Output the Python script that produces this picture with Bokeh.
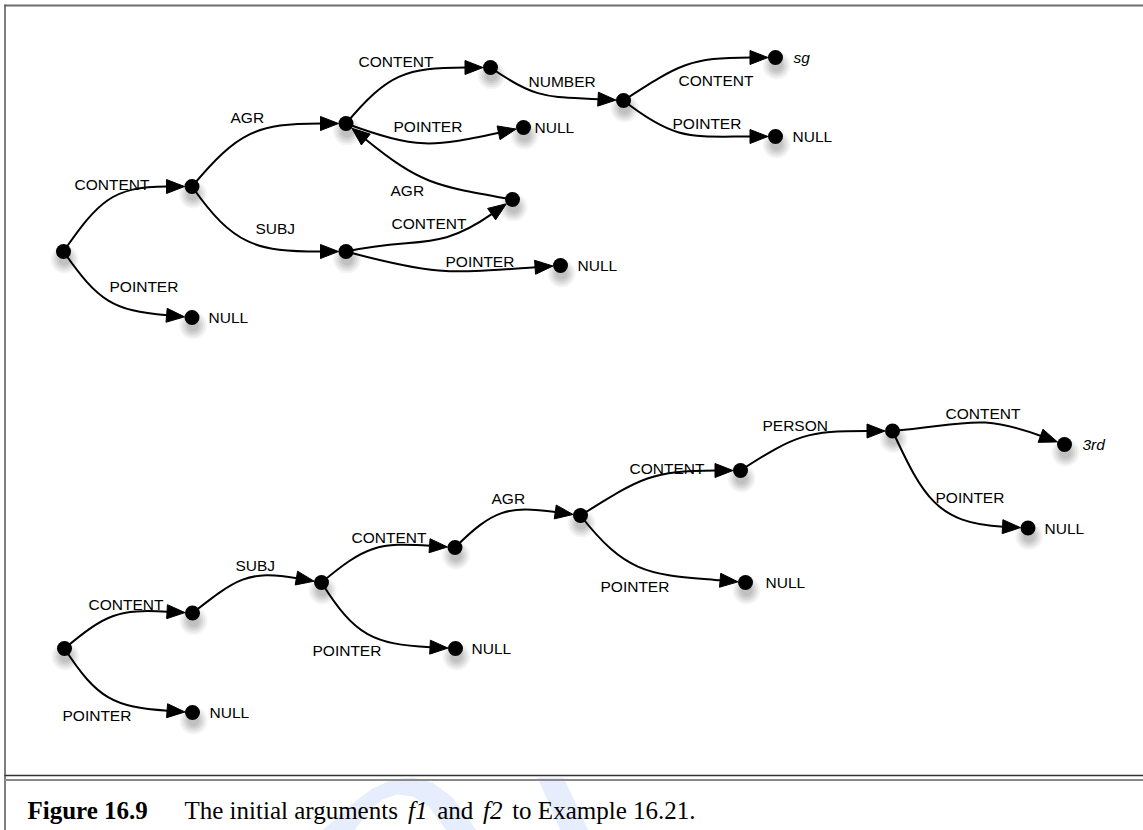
import math
from bokeh.plotting import figure
from bokeh.models import Range1d
from bokeh.core.properties import value
from bokeh.embed import file_html
from bokeh.resources import INLINE

# ---------------- data: the two feature structures f1 (top) and f2 (bottom)
node_id = ["A", "B", "C", "D", "E", "F", "G", "H", "I", "J", "K", "L",
           "a", "b", "c", "d", "e", "f", "g", "h", "i", "j", "k", "l"]
node_x = [63, 191.5, 345.5, 345.5, 490, 623, 775, 775, 523, 512, 560, 191.5,
          64, 192, 321, 454.5, 580, 740, 892, 1064, 1027.5, 745, 455, 192]
node_y = [251, 186, 123, 251, 67, 100, 57, 136, 127, 199, 265, 317,
          648, 612.5, 582, 547, 515, 470, 430.5, 444, 527.5, 582, 648, 712]

edge_src = ["A", "A", "B", "B", "C", "C", "E", "F", "F", "D", "J", "D",
            "a", "a", "b", "c", "c", "d", "e", "e", "f", "g", "g"]
edge_dst = ["B", "L", "C", "D", "E", "I", "F", "G", "H", "J", "C", "K",
            "b", "l", "c", "d", "k", "e", "f", "j", "g", "h", "i"]
edge_label = ["CONTENT", "POINTER", "AGR", "SUBJ", "CONTENT", "POINTER", "NUMBER",
              "CONTENT", "POINTER", "CONTENT", "AGR", "POINTER",
              "CONTENT", "POINTER", "SUBJ", "CONTENT", "POINTER", "AGR", "CONTENT",
              "POINTER", "PERSON", "CONTENT", "POINTER"]
edge_out_deg = [-55, 55, -50, 55, -50, 20, 35, -33, 38, -12, -170, 15,
                -40, 57, -38, -40, 58, -45, -32, 52, -33, -5, 65]
edge_in_deg = [0, 5, 0, 0, 0, -12, 3, 0, 0, -35, -141, -4,
               3, 4, 10, 4, 3, 8, 0, 5, 0, 20, 3]
label_x = [74, 109, 230, 255, 358, 393, 528, 678, 672, 391, 390, 445,
           88, 62, 235, 351, 312, 491, 629, 600, 762, 945, 935]
label_y = [184, 286, 117, 228, 61, 126, 81, 80, 123, 223, 190, 261,
           604, 715, 565, 537, 650, 498, 468, 586, 425, 413, 497]

atom_node = ["G", "H", "I", "K", "L", "h", "i", "j", "k", "l"]
atom_text = ["sg", "NULL", "NULL", "NULL", "NULL", "3rd", "NULL", "NULL", "NULL", "NULL"]
atom_x = [793, 792, 534, 577, 208, 1082, 1044, 765, 471, 209]

caption_bold = "Figure 16.9"
caption_parts = ["The initial arguments", "f1", "and", "f2", "to Example 16.21."]
caption_italic = [False, True, False, True, False]

# ---------------- figure (data units == screen pixels)
W, H = 1143, 830
p = figure(width=W, height=H, x_range=Range1d(0, W), y_range=Range1d(H, 0),
           output_backend="svg", toolbar_location=None, min_border=0,
           x_axis_location=None, y_axis_location=None)
p.grid.visible = False
p.outline_line_color = None
p.background_fill_color = "white"
p.border_fill_color = "white"

# faint watermark behind the caption
wm = "#e6edfc"
p.patch(x=[322, 352, 372, 392, 412, 432, 452, 476, 446, 428, 412, 396, 382, 368, 354],
        y=[830, 803, 788, 779, 777, 782, 797, 830, 830, 806, 796, 794, 799, 810, 830],
        fill_color=wm, line_color=None)
p.patch(x=[537, 563, 588, 560], y=[777, 777, 830, 830], fill_color=wm, line_color=None)

# frame lines
p.segment(x0=[4], y0=[5], x1=[W], y1=[5], line_color="#6e6e6e", line_width=2)
p.segment(x0=[4.5], y0=[4], x1=[4.5], y1=[H], line_color="#555555", line_width=1.5)
p.segment(x0=[4], y0=[775], x1=[W], y1=[775], line_color="#333333", line_width=1.5)
p.segment(x0=[4], y0=[779.5], x1=[W], y1=[779.5], line_color="#8a8a8a", line_width=2)

pos = {n: (x, y) for n, x, y in zip(node_id, node_x, node_y)}

# node shadows
for r, a in [(14, 0.04), (12, 0.05), (10, 0.055), (8, 0.06), (6, 0.06)]:
    p.scatter(x=[x + 1 for x in node_x], y=[y + 8 for y in node_y], size=2 * r,
              marker="circle", fill_color="black", line_color=None, fill_alpha=a)

# edges
R, AL, AW = 7.5, 18.0, 14.0
bz = dict(x0=[], y0=[], x1=[], y1=[], cx0=[], cy0=[], cx1=[], cy1=[])
axs, ays = [], []
for s, t, a0, a1 in zip(edge_src, edge_dst, edge_out_deg, edge_in_deg):
    x0, y0 = pos[s]
    xt, yt = pos[t]
    u0 = (math.cos(math.radians(a0)), math.sin(math.radians(a0)))
    u1 = (math.cos(math.radians(a1)), math.sin(math.radians(a1)))
    tipx, tipy = xt - R * u1[0], yt - R * u1[1]
    bx, by = tipx - (AL - 0.5) * u1[0], tipy - (AL - 0.5) * u1[1]
    d = math.hypot(bx - x0, by - y0)
    bz["x0"].append(x0); bz["y0"].append(y0)
    bz["x1"].append(bx); bz["y1"].append(by)
    bz["cx0"].append(x0 + 0.5 * d * u0[0]); bz["cy0"].append(y0 + 0.5 * d * u0[1])
    bz["cx1"].append(bx - 0.45 * d * u1[0]); bz["cy1"].append(by - 0.45 * d * u1[1])
    px, py = -u1[1], u1[0]
    mx, my = tipx - AL * u1[0], tipy - AL * u1[1]
    axs.append([tipx, mx + AW / 2 * px, mx - AW / 2 * px])
    ays.append([tipy, my + AW / 2 * py, my - AW / 2 * py])

p.bezier(line_color="black", line_width=2, **bz)
p.patches(xs=axs, ys=ays, fill_color="black", line_color="black", line_width=1)

# nodes
p.scatter(x=node_x, y=node_y, size=15, marker="circle", fill_color="black", line_color=None)

# edge labels
p.text(x=label_x, y=label_y, text=edge_label, text_font=value("Liberation Sans"),
       text_font_size="15.5px", text_baseline="middle", text_align="left", text_color="black")

# atomic values
for style in ["normal", "italic"]:
    sel = [i for i, t in enumerate(atom_text) if (t != "NULL") == (style == "italic")]
    p.text(x=[atom_x[i] for i in sel], y=[pos[atom_node[i]][1] for i in sel],
           text=[atom_text[i] for i in sel], text_font=value("Liberation Sans"),
           text_font_size="15.5px", text_font_style=style, text_baseline="middle",
           text_align="left", text_color="black")

# caption (Times metrics used to lay the segments out)
roman = {" ": 250, "T": 611, "h": 500, "e": 444, "i": 278, "n": 500, "t": 278, "a": 444,
         "l": 278, "r": 333, "g": 500, "u": 500, "m": 778, "s": 389, "d": 500, "o": 500,
         "E": 611, "x": 500, "p": 500, "1": 500, "6": 500, ".": 250, "2": 500}
ital = {"f": 278, "1": 500, "2": 500}
CFS, CY, X0, XEND = 25, 810, 184.0, 695.0
p.text(x=[27], y=[CY], text=[caption_bold], text_font=value("Liberation Serif"),
       text_font_size=f"{CFS}px", text_font_style="bold", text_baseline="alphabetic")
widths = [sum((ital if it else roman).get(ch, 500) for ch in s) * CFS / 1000.0
          for s, it in zip(caption_parts, caption_italic)]
gap = (XEND - X0 - sum(widths)) / (len(widths) - 1)
cx = X0
seg_x = []
for wdt in widths:
    seg_x.append(cx)
    cx += wdt + gap
for it, st in [(False, "normal"), (True, "italic")]:
    idx = [i for i, v in enumerate(caption_italic) if v == it]
    p.text(x=[seg_x[i] for i in idx], y=[CY] * len(idx), text=[caption_parts[i] for i in idx],
           text_font=value("Liberation Serif"), text_font_size=f"{CFS}px",
           text_font_style=st, text_baseline="alphabetic")

open("out.html", "w").write(file_html(p, INLINE))
